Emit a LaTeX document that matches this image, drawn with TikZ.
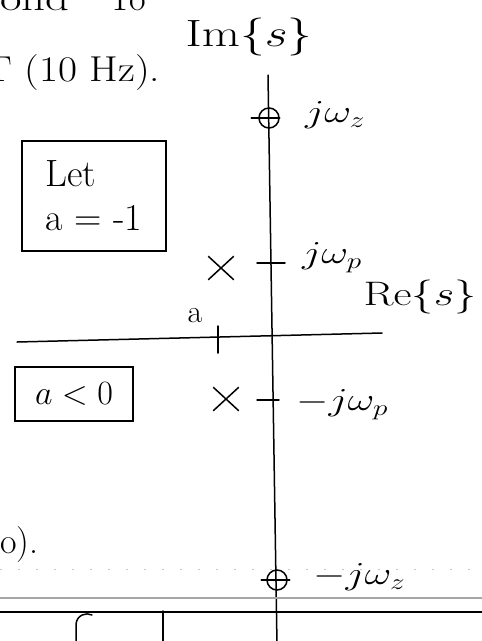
\RequirePackage{fix-cm}
\documentclass[tikz,border=0pt]{standalone}
\usepackage{amsmath}
\usepackage{graphicx}
\usetikzlibrary{positioning,shapes.misc}
\newcommand{\hwide}[1]{\scalebox{1.3}[1]{#1}}
\begin{document}
\begin{tikzpicture}[x=1pt, y=-1pt,
  hand/.style={line width=1.5pt, line cap=round, line join=round},
  lbl/.style={inner sep=0pt, font=\fontsize{32}{36}\selectfont},
  big/.style={inner sep=0pt, font=\fontsize{36}{40}\selectfont},
  boxed/.style={draw, line width=1.5pt, inner sep=0pt, font=\fontsize{38}{44}\selectfont},
  zero/.style={circle, draw, line width=1.5pt, minimum size=20pt, inner sep=0pt},
  pole/.style={cross out, draw, line width=1.5pt, minimum width=24pt, minimum height=22pt, inner sep=0pt}
]
\useasboundingbox (0,0) rectangle (482,641);

% text cut off at the top and left
\node[big, anchor=base west] (cuta) at (0,10) {\hwide{ond}};
\node[big, anchor=base west] (cutb) at (108,10) {To};
\node[big, anchor=base west] (freq) at (-16,81) {\scalebox{1.15}[1]{T (10 Hz).}};
\node[big, anchor=base west] (endp) at (0,553) {o).};

% s-plane axes
\coordinate (imtop) at (268,75);
\coordinate (imbot) at (277,645);
\coordinate (releft) at (17,342);
\coordinate (reright) at (382,333);
\draw[hand] (imtop) -- (imbot);
\draw[hand] (releft) -- (reright);
\node[inner sep=0pt, font=\fontsize{38}{42}\selectfont] (imlbl) at (249,37) {\hwide{$\mathrm{Im}\{s\}$}};
\node[inner sep=0pt, font=\fontsize{34}{38}\selectfont] (relbl) at (420,297) {\hwide{$\mathrm{Re}\{s\}$}};

% zeros
\node[zero] (zup) at (269,118) {};
\node[zero] (zdn) at (277,580) {};
\draw[hand] ([xshift=-7pt]zup.west) -- (zup.east);
\draw[hand] ([xshift=-5pt]zdn.west) -- ([xshift=2pt]zdn.east);
\node[lbl, anchor=west] (wzup) at (305,115) {\hwide{$j\omega_z$}};
\node[lbl, anchor=west] (wzdn) at (313,577) {\hwide{$-j\omega_z$}};

% poles
\node[pole] (pup) at (221,268) {};
\node[pole] (pdn) at (226,399) {};
\coordinate (tupl) at (257,263);
\coordinate (tupr) at (285,263);
\coordinate (tdnl) at (257,400);
\coordinate (tdnr) at (279,400);
\draw[hand] (tupl) -- (tupr);
\draw[hand] (tdnl) -- (tdnr);
\node[lbl, anchor=west] (wpup) at (302,258) {\hwide{$j\omega_p$}};
\node[lbl, anchor=west] (wpdn) at (296,405) {\hwide{$-j\omega_p$}};

% the point a on the real axis
\coordinate (atop) at (218,326);
\coordinate (abot) at (218,353);
\draw[hand] (atop) -- (abot);
\node[lbl] (albl) at (195,316) {a};

% boxed notes
\node[boxed, minimum width=144pt, minimum height=110pt, align=left] (letbox) at (94,196) {Let\\a = -1};
\node[boxed, minimum width=118pt, minimum height=54pt, font=\fontsize{34}{40}\selectfont] (neg) at (74,394) {$a<0$};

% ruled lines of the sheet
\draw[gray!45, line width=1pt, dash pattern=on 2pt off 16pt] (0,569) -- (482,569);
\draw[gray!70, line width=1.2pt] (0,598) -- (482,598);
\draw[line width=1.4pt] (0,612) -- (482,612);

% writing cut off at the bottom
\draw[hand] (76,641) -- (76,624) .. controls (77,615) and (86,612) .. (92,615);
\draw[hand] (163,611) -- (163,641);
\end{tikzpicture}
\end{document}
